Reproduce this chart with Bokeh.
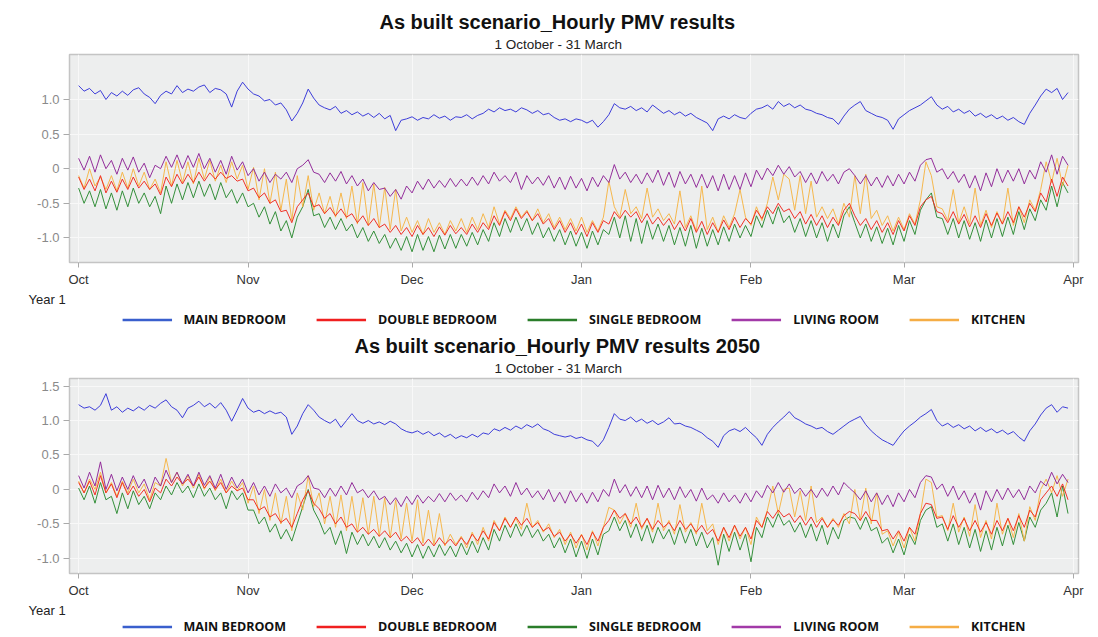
import pandas as pd
from bokeh.plotting import figure
from bokeh.layouts import column
from bokeh.models import (FixedTicker, DatetimeTickFormatter, Range1d, Title,
                          Legend, LegendItem, ColumnDataSource)
from bokeh.embed import file_html
from bokeh.resources import INLINE

# ---------------- data (one value per day, 1 Oct .. 31 Mar) -------------
dates = pd.date_range("2001-10-01", periods=182, freq="D")
month_starts = list(pd.date_range("2001-10-01", "2002-04-01", freq="MS"))

series_names = ["MAIN BEDROOM", "DOUBLE BEDROOM", "SINGLE BEDROOM", "LIVING ROOM", "KITCHEN"]
series_colors = ["#3434d8", "#f0281e", "#2a8a30", "#8e2496", "#f6b445"]
legend_colors = ["#3a5fcd", "#f02020", "#2a7d2a", "#a23aa8", "#f5ad45"]

y_ticks_now = [-1.0, -0.5, 0.0, 0.5, 1.0]
y_ticks_2050 = [-1.0, -0.5, 0.0, 0.5, 1.0, 1.5]

main_bedroom_now = [
    1.20, 1.12, 1.16, 1.08, 1.13, 1.00, 1.10, 1.05, 1.12, 1.06,
    1.14, 1.17, 1.08, 1.03, 0.94, 1.06, 1.12, 1.08, 1.20, 1.10,
    1.15, 1.12, 1.18, 1.21, 1.10, 1.16, 1.14, 1.08, 0.89, 1.12,
    1.25, 1.15, 1.08, 1.05, 0.98, 1.00, 0.92, 0.95, 0.85, 0.69,
    0.80, 0.95, 1.15, 1.02, 0.92, 0.88, 0.85, 0.90, 0.80, 0.84,
    0.78, 0.82, 0.76, 0.80, 0.74, 0.80, 0.72, 0.77, 0.55, 0.70,
    0.72, 0.75, 0.70, 0.74, 0.72, 0.78, 0.73, 0.76, 0.70, 0.75,
    0.74, 0.78, 0.72, 0.77, 0.80, 0.86, 0.82, 0.88, 0.84, 0.86,
    0.82, 0.88, 0.85, 0.80, 0.84, 0.78, 0.80, 0.74, 0.70, 0.72,
    0.68, 0.72, 0.70, 0.66, 0.70, 0.60, 0.68, 0.78, 0.94, 0.88,
    0.86, 0.90, 0.84, 0.88, 0.82, 0.92, 0.86, 0.80, 0.84, 0.78,
    0.82, 0.76, 0.80, 0.74, 0.70, 0.66, 0.55, 0.72, 0.76, 0.72,
    0.78, 0.74, 0.72, 0.80, 0.86, 0.88, 0.92, 0.86, 0.97, 0.90,
    0.94, 0.88, 0.92, 0.86, 0.84, 0.80, 0.78, 0.74, 0.72, 0.64,
    0.76, 0.86, 0.92, 0.97, 0.84, 0.80, 0.76, 0.74, 0.70, 0.57,
    0.72, 0.78, 0.84, 0.88, 0.92, 0.98, 1.04, 0.92, 0.86, 0.90,
    0.82, 0.86, 0.80, 0.84, 0.76, 0.80, 0.74, 0.78, 0.72, 0.76,
    0.70, 0.74, 0.68, 0.64, 0.80, 0.92, 1.05, 1.15, 1.10, 1.16,
    1.00, 1.10]

living_room_now = [
    0.15, -0.02, 0.18, -0.05, 0.20, 0.00, 0.12, -0.08, 0.15, -0.02,
    0.17, -0.05, 0.08, -0.13, 0.05, 0.00, 0.18, 0.02, 0.20, 0.00,
    0.19, 0.02, 0.22, 0.00, 0.15, -0.05, 0.12, -0.08, 0.18, -0.02,
    0.10, -0.10, 0.00, -0.18, -0.05, -0.20, -0.08, -0.15, -0.05, -0.20,
    0.00, 0.05, 0.13, -0.05, -0.08, -0.20, -0.06, -0.18, -0.04, -0.22,
    -0.10, -0.25, -0.15, -0.32, -0.20, -0.30, -0.28, -0.40, -0.30, -0.44,
    -0.25, -0.35, -0.18, -0.30, -0.15, -0.28, -0.17, -0.27, -0.14, -0.26,
    -0.15, -0.25, -0.12, -0.24, -0.10, -0.22, -0.05, -0.18, -0.10, -0.20,
    -0.05, -0.30, -0.10, -0.22, -0.12, -0.24, -0.10, -0.28, -0.12, -0.30,
    -0.11, -0.28, -0.14, -0.32, -0.12, -0.26, -0.10, -0.20, 0.06, -0.15,
    -0.05, -0.20, -0.08, -0.22, -0.06, -0.20, -0.02, -0.24, -0.05, -0.27,
    -0.04, -0.22, -0.08, -0.27, -0.08, -0.28, -0.10, -0.32, -0.08, -0.30,
    -0.10, -0.30, -0.06, -0.26, -0.02, -0.16, 0.01, -0.10, 0.05, -0.08,
    0.03, -0.12, -0.04, -0.20, -0.06, -0.22, -0.04, -0.18, -0.08, -0.22,
    -0.05, 0.00, -0.10, -0.22, -0.10, -0.25, -0.12, -0.27, -0.10, -0.25,
    -0.08, -0.22, -0.05, -0.18, 0.05, 0.13, 0.15, -0.05, 0.00, -0.15,
    -0.04, -0.20, -0.08, -0.28, -0.10, -0.32, -0.06, -0.26, 0.00, -0.20,
    -0.02, -0.18, 0.00, -0.22, -0.02, -0.15, 0.10, -0.05, 0.20, -0.08,
    0.18, 0.05]

kitchen_now = [
    -0.10, -0.28, 0.00, -0.25, -0.12, -0.30, -0.10, -0.32, -0.05, -0.28,
    0.00, -0.25, -0.05, -0.30, -0.15, -0.35, 0.10, -0.25, 0.12, -0.20,
    0.10, -0.22, 0.15, -0.15, 0.12, -0.18, 0.05, -0.20, 0.10, -0.15,
    0.05, -0.30, 0.02, -0.45, 0.00, -0.50, -0.05, -0.60, -0.15, -0.75,
    -0.10, -0.55, -0.10, -0.60, -0.35, -0.65, -0.40, -0.70, -0.35, -0.72,
    -0.25, -0.80, -0.20, -0.82, -0.22, -0.85, -0.27, -0.88, -0.30, -0.90,
    -0.70, -0.92, -0.75, -0.95, -0.72, -0.92, -0.78, -0.95, -0.75, -0.90,
    -0.72, -0.92, -0.70, -0.88, -0.65, -0.85, -0.55, -0.80, -0.60, -0.72,
    -0.55, -0.70, -0.60, -0.75, -0.58, -0.78, -0.65, -0.85, -0.70, -0.88,
    -0.72, -0.90, -0.70, -0.92, -0.75, -0.90, -0.70, -0.18, -0.55, -0.70,
    -0.30, -0.65, -0.55, -0.72, -0.28, -0.70, -0.58, -0.75, -0.65, -0.80,
    -0.32, -0.85, -0.68, -0.90, -0.25, -0.88, -0.70, -0.92, -0.68, -0.85,
    -0.65, -0.30, -0.70, -0.82, -0.55, -0.75, -0.50, -0.12, -0.45, -0.08,
    -0.15, -0.60, -0.10, -0.65, -0.18, -0.70, -0.55, -0.72, -0.58, -0.80,
    -0.50, -0.70, -0.10, -0.65, -0.08, -0.72, -0.60, -0.82, -0.68, -0.90,
    -0.70, -0.88, -0.65, -0.80, -0.45, 0.10, -0.10, -0.55, -0.58, -0.75,
    -0.30, -0.78, -0.55, -0.80, -0.28, -0.82, -0.60, -0.85, -0.62, -0.80,
    -0.28, -0.82, -0.55, -0.78, -0.45, -0.60, -0.30, 0.10, -0.20, 0.15,
    -0.25, 0.05]

double_bedroom_now = [
    -0.12, -0.30, -0.15, -0.32, -0.10, -0.35, -0.18, -0.34, -0.15, -0.30,
    -0.12, -0.28, -0.18, -0.30, -0.22, -0.38, -0.12, -0.26, -0.08, -0.22,
    -0.08, -0.20, -0.05, -0.18, -0.06, -0.15, -0.05, -0.14, -0.10, -0.18,
    -0.15, -0.32, -0.28, -0.42, -0.35, -0.50, -0.45, -0.62, -0.60, -0.78,
    -0.55, -0.45, -0.35, -0.55, -0.52, -0.65, -0.56, -0.68, -0.58, -0.70,
    -0.65, -0.78, -0.68, -0.82, -0.72, -0.85, -0.80, -0.92, -0.82, -0.95,
    -0.85, -0.98, -0.82, -0.95, -0.85, -0.98, -0.84, -0.96, -0.82, -0.94,
    -0.85, -0.95, -0.80, -0.92, -0.78, -0.88, -0.68, -0.82, -0.62, -0.75,
    -0.58, -0.72, -0.62, -0.75, -0.65, -0.80, -0.72, -0.88, -0.75, -0.92,
    -0.78, -0.95, -0.80, -0.98, -0.78, -0.92, -0.75, -0.80, -0.62, -0.72,
    -0.60, -0.70, -0.62, -0.78, -0.65, -0.80, -0.70, -0.82, -0.72, -0.88,
    -0.75, -0.90, -0.72, -0.92, -0.76, -0.95, -0.78, -0.92, -0.74, -0.88,
    -0.70, -0.85, -0.72, -0.80, -0.60, -0.72, -0.55, -0.65, -0.50, -0.62,
    -0.58, -0.72, -0.62, -0.80, -0.66, -0.82, -0.68, -0.85, -0.70, -0.82,
    -0.60, -0.50, -0.68, -0.82, -0.72, -0.88, -0.75, -0.92, -0.78, -0.95,
    -0.75, -0.90, -0.68, -0.82, -0.55, -0.45, -0.40, -0.62, -0.65, -0.78,
    -0.62, -0.80, -0.66, -0.84, -0.68, -0.85, -0.65, -0.82, -0.64, -0.80,
    -0.62, -0.78, -0.55, -0.70, -0.50, -0.62, -0.35, -0.48, -0.15, -0.40,
    -0.12, -0.25]

single_bedroom_now = [
    -0.28, -0.50, -0.32, -0.55, -0.30, -0.58, -0.35, -0.60, -0.32, -0.55,
    -0.28, -0.50, -0.35, -0.55, -0.40, -0.65, -0.25, -0.50, -0.22, -0.45,
    -0.20, -0.42, -0.18, -0.40, -0.22, -0.45, -0.20, -0.42, -0.30, -0.50,
    -0.35, -0.55, -0.50, -0.70, -0.55, -0.80, -0.62, -0.90, -0.75, -1.00,
    -0.70, -0.55, -0.30, -0.68, -0.65, -0.85, -0.70, -0.88, -0.72, -0.90,
    -0.80, -1.00, -0.85, -1.05, -0.90, -1.08, -0.95, -1.15, -1.00, -1.18,
    -0.98, -1.20, -0.95, -1.18, -0.98, -1.20, -0.96, -1.16, -0.95, -1.15,
    -0.95, -1.12, -0.92, -1.10, -0.88, -1.05, -0.78, -0.98, -0.72, -0.92,
    -0.70, -0.90, -0.72, -0.95, -0.78, -1.00, -0.85, -1.05, -0.88, -1.10,
    -0.90, -1.12, -0.92, -1.15, -0.90, -1.10, -0.88, -0.95, -0.70, -1.00,
    -0.68, -1.05, -0.72, -1.08, -0.75, -1.02, -0.80, -1.05, -0.82, -1.10,
    -0.85, -1.12, -0.82, -1.15, -0.86, -1.12, -0.88, -1.10, -0.84, -1.05,
    -0.80, -1.00, -0.82, -0.98, -0.68, -0.85, -0.60, -0.80, -0.55, -0.78,
    -0.68, -0.92, -0.72, -0.98, -0.75, -1.00, -0.78, -1.05, -0.80, -1.00,
    -0.68, -0.55, -0.78, -1.00, -0.80, -1.05, -0.84, -1.08, -0.86, -1.10,
    -0.82, -1.05, -0.75, -0.95, -0.60, -0.45, -0.35, -0.70, -0.72, -0.95,
    -0.72, -1.00, -0.75, -1.02, -0.78, -1.05, -0.74, -1.00, -0.72, -0.98,
    -0.70, -0.95, -0.62, -0.88, -0.58, -0.75, -0.45, -0.60, -0.25, -0.55,
    -0.20, -0.35]

main_bedroom_2050 = [
    1.23, 1.18, 1.20, 1.15, 1.22, 1.39, 1.15, 1.20, 1.12, 1.18,
    1.14, 1.20, 1.15, 1.22, 1.18, 1.25, 1.30, 1.20, 1.15, 1.04,
    1.18, 1.22, 1.28, 1.20, 1.25, 1.18, 1.26, 1.15, 0.99, 1.15,
    1.32, 1.18, 1.12, 1.15, 1.10, 1.14, 1.10, 1.12, 1.05, 0.80,
    0.92, 1.10, 1.23, 1.15, 1.05, 1.00, 0.96, 1.02, 0.90, 1.00,
    1.10, 1.00, 0.96, 1.00, 0.95, 0.98, 0.94, 0.99, 0.95, 0.88,
    0.84, 0.82, 0.85, 0.80, 0.84, 0.78, 0.82, 0.76, 0.80, 0.74,
    0.78, 0.75, 0.80, 0.76, 0.82, 0.80, 0.88, 0.85, 0.90, 0.86,
    0.92, 0.88, 0.94, 0.90, 0.95, 0.88, 0.85, 0.80, 0.78, 0.76,
    0.78, 0.74, 0.76, 0.72, 0.70, 0.62, 0.72, 0.90, 1.10, 1.02,
    1.00, 1.05, 0.98, 1.02, 0.96, 1.00, 0.94, 0.98, 1.04, 0.95,
    0.96, 0.92, 0.90, 0.86, 0.82, 0.75, 0.70, 0.61, 0.78, 0.85,
    0.88, 0.84, 0.90, 0.82, 0.75, 0.64, 0.80, 0.90, 0.98, 1.05,
    1.13, 1.04, 1.00, 0.95, 0.92, 0.88, 0.90, 0.84, 0.80, 0.86,
    0.92, 0.98, 1.02, 1.06, 0.94, 0.85, 0.78, 0.72, 0.68, 0.64,
    0.75, 0.85, 0.92, 0.98, 1.05, 1.10, 1.16, 1.00, 0.92, 0.96,
    0.90, 0.94, 0.88, 0.92, 0.85, 0.90, 0.84, 0.88, 0.82, 0.86,
    0.80, 0.84, 0.76, 0.70, 0.85, 0.95, 1.08, 1.18, 1.23, 1.12,
    1.20, 1.18]

living_room_2050 = [
    0.20, 0.02, 0.25, 0.05, 0.40, 0.00, 0.22, -0.02, 0.18, 0.00,
    0.20, 0.02, 0.15, -0.05, 0.18, 0.05, 0.28, 0.10, 0.25, 0.08,
    0.22, 0.05, 0.25, 0.06, 0.20, 0.02, 0.22, 0.00, 0.18, 0.02,
    0.15, -0.05, 0.10, -0.08, 0.05, -0.10, 0.08, -0.05, 0.02, -0.12,
    0.05, 0.10, 0.20, 0.02, 0.00, -0.12, 0.02, -0.10, 0.05, -0.08,
    0.10, -0.05, 0.00, -0.12, -0.02, -0.15, -0.10, -0.22, -0.12, -0.25,
    -0.10, -0.22, -0.08, -0.20, -0.10, -0.18, -0.06, -0.18, -0.05, -0.16,
    -0.08, -0.18, -0.04, -0.15, -0.02, -0.12, 0.08, -0.05, 0.05, -0.10,
    0.10, -0.08, 0.02, -0.12, -0.02, -0.15, 0.00, -0.18, -0.04, -0.20,
    -0.02, -0.18, -0.05, -0.20, -0.04, -0.18, 0.00, -0.10, 0.15, -0.05,
    0.07, -0.10, 0.04, -0.12, 0.05, -0.15, 0.06, -0.12, 0.02, -0.15,
    0.04, -0.12, 0.00, -0.17, 0.02, -0.15, -0.08, -0.20, -0.05, -0.18,
    -0.08, -0.20, -0.05, -0.18, -0.02, -0.12, 0.06, -0.05, 0.10, -0.04,
    0.08, -0.06, 0.02, -0.10, 0.00, -0.12, 0.02, -0.10, 0.05, -0.08,
    0.10, 0.02, -0.05, -0.15, -0.02, -0.18, -0.05, -0.22, -0.08, -0.25,
    -0.05, -0.18, 0.00, -0.12, 0.10, 0.20, 0.18, 0.00, 0.08, -0.10,
    0.05, -0.15, -0.02, -0.20, -0.05, -0.30, -0.02, -0.18, 0.00, -0.15,
    0.02, -0.12, 0.00, -0.15, 0.05, -0.05, 0.12, 0.05, 0.25, 0.08,
    0.22, 0.10]

kitchen_2050 = [
    0.12, -0.05, 0.15, 0.00, 0.25, -0.05, 0.10, -0.10, 0.12, -0.05,
    0.15, -0.05, 0.08, -0.15, 0.10, 0.05, 0.45, 0.10, 0.25, 0.05,
    0.20, 0.02, 0.22, 0.00, 0.18, -0.02, 0.15, -0.05, 0.12, -0.02,
    0.10, -0.20, 0.05, -0.35, 0.00, -0.45, -0.05, -0.50, -0.10, -0.60,
    -0.05, -0.30, 0.20, -0.25, -0.05, -0.50, -0.10, -0.55, -0.08, -0.60,
    -0.10, -0.62, -0.12, -0.65, -0.10, -0.68, -0.12, -0.70, -0.15, -0.72,
    -0.20, -0.75, -0.15, -0.78, -0.30, -0.80, -0.35, -0.82, -0.65, -0.80,
    -0.68, -0.85, -0.62, -0.80, -0.55, -0.75, -0.45, -0.60, -0.40, -0.55,
    -0.42, -0.58, -0.20, -0.55, -0.45, -0.62, -0.50, -0.70, -0.58, -0.80,
    -0.62, -0.85, -0.65, -0.88, -0.60, -0.82, -0.55, -0.26, -0.30, -0.50,
    -0.35, -0.55, -0.20, -0.58, -0.42, -0.62, -0.20, -0.60, -0.45, -0.65,
    -0.22, -0.62, -0.48, -0.65, -0.20, -0.60, -0.50, -0.80, -0.55, -0.75,
    -0.52, -0.72, -0.55, -0.80, -0.40, -0.55, -0.30, 0.05, -0.35, 0.00,
    0.02, -0.40, -0.02, -0.45, 0.05, -0.48, -0.40, -0.55, -0.42, -0.55,
    -0.35, -0.50, 0.00, -0.45, 0.02, -0.50, -0.05, -0.65, -0.60, -0.82,
    -0.62, -0.85, -0.55, -0.75, -0.35, 0.15, 0.10, -0.40, -0.38, -0.60,
    -0.20, -0.62, -0.40, -0.68, -0.22, -0.70, -0.45, -0.72, -0.20, -0.65,
    -0.42, -0.70, -0.35, -0.75, -0.25, -0.45, 0.00, 0.15, -0.05, 0.20,
    -0.10, 0.15]

double_bedroom_2050 = [
    0.10, -0.05, 0.12, -0.08, 0.20, -0.05, 0.08, -0.12, 0.10, -0.08,
    0.05, -0.10, 0.00, -0.18, 0.02, -0.05, 0.15, 0.05, 0.18, 0.08,
    0.15, 0.05, 0.18, 0.02, 0.12, 0.00, 0.10, -0.05, 0.05, -0.02,
    0.02, -0.15, -0.15, -0.30, -0.25, -0.40, -0.35, -0.48, -0.42, -0.55,
    -0.35, -0.15, -0.02, -0.20, -0.28, -0.42, -0.35, -0.50, -0.40, -0.55,
    -0.50, -0.62, -0.55, -0.65, -0.58, -0.68, -0.60, -0.70, -0.62, -0.75,
    -0.68, -0.78, -0.70, -0.82, -0.72, -0.82, -0.70, -0.80, -0.72, -0.82,
    -0.70, -0.80, -0.65, -0.75, -0.60, -0.72, -0.48, -0.60, -0.42, -0.55,
    -0.40, -0.52, -0.42, -0.55, -0.48, -0.60, -0.55, -0.68, -0.62, -0.75,
    -0.65, -0.78, -0.66, -0.80, -0.62, -0.75, -0.55, -0.45, -0.30, -0.42,
    -0.35, -0.50, -0.40, -0.55, -0.42, -0.58, -0.45, -0.55, -0.48, -0.60,
    -0.45, -0.58, -0.50, -0.62, -0.52, -0.65, -0.58, -0.75, -0.55, -0.70,
    -0.52, -0.68, -0.55, -0.72, -0.45, -0.55, -0.32, -0.42, -0.30, -0.40,
    -0.35, -0.48, -0.38, -0.52, -0.40, -0.55, -0.42, -0.55, -0.44, -0.52,
    -0.38, -0.32, -0.35, -0.45, -0.32, -0.45, -0.45, -0.60, -0.58, -0.72,
    -0.60, -0.75, -0.55, -0.65, -0.35, -0.20, -0.22, -0.42, -0.40, -0.58,
    -0.38, -0.55, -0.42, -0.60, -0.45, -0.62, -0.48, -0.65, -0.45, -0.60,
    -0.42, -0.60, -0.38, -0.55, -0.30, -0.40, -0.15, -0.05, 0.05, -0.10,
    0.08, -0.15]

single_bedroom_2050 = [
    0.02, -0.15, 0.05, -0.20, 0.10, -0.15, -0.10, -0.35, -0.05, -0.28,
    -0.02, -0.22, -0.10, -0.28, -0.05, -0.15, 0.05, -0.08, 0.10, -0.05,
    0.05, -0.12, 0.08, -0.10, 0.02, -0.15, -0.05, -0.28, -0.02, -0.15,
    -0.05, -0.30, -0.30, -0.50, -0.40, -0.62, -0.50, -0.72, -0.58, -0.75,
    -0.50, -0.25, 0.00, -0.30, -0.45, -0.65, -0.55, -0.80, -0.60, -0.93,
    -0.62, -0.80, -0.65, -0.82, -0.68, -0.85, -0.70, -0.88, -0.75, -0.92,
    -0.78, -0.98, -0.80, -1.00, -0.82, -0.98, -0.80, -0.96, -0.82, -0.98,
    -0.78, -0.95, -0.75, -0.92, -0.70, -0.88, -0.58, -0.75, -0.52, -0.70,
    -0.50, -0.68, -0.52, -0.70, -0.58, -0.75, -0.65, -0.85, -0.70, -0.92,
    -0.72, -0.98, -0.75, -1.00, -0.72, -0.95, -0.65, -0.60, -0.40, -0.60,
    -0.45, -0.70, -0.50, -0.75, -0.52, -0.78, -0.55, -0.72, -0.58, -0.80,
    -0.55, -0.78, -0.58, -0.82, -0.62, -0.85, -0.70, -1.10, -0.65, -0.90,
    -0.62, -0.88, -0.65, -1.05, -0.55, -0.70, -0.40, -0.55, -0.35, -0.52,
    -0.45, -0.62, -0.48, -0.70, -0.50, -0.75, -0.52, -0.80, -0.55, -0.72,
    -0.45, -0.40, -0.42, -0.58, -0.40, -0.60, -0.55, -0.78, -0.70, -0.92,
    -0.72, -0.95, -0.65, -0.80, -0.45, -0.30, -0.25, -0.55, -0.50, -0.75,
    -0.50, -0.80, -0.55, -0.85, -0.58, -0.90, -0.60, -0.88, -0.55, -0.82,
    -0.52, -0.80, -0.48, -0.75, -0.40, -0.55, -0.30, -0.20, -0.05, -0.40,
    0.05, -0.35]

values_now = [main_bedroom_now, double_bedroom_now, single_bedroom_now,
              living_room_now, kitchen_now]
values_2050 = [main_bedroom_2050, double_bedroom_2050, single_bedroom_2050,
               living_room_2050, kitchen_2050]

# ---------------- layout constants ----------------
X_START = pd.Timestamp("2001-10-01") - pd.Timedelta(hours=40)
X_END = pd.Timestamp("2002-04-01") + pd.Timedelta(hours=22)
FONT = "Liberation Sans"
MONTH_TICKS = [t.value // 10**6 for t in month_starts]
W = 1090
LEFT = 69
RIGHT = 12


def tick_label(v):
    return "0" if v == 0 else f"{v:.1f}"


def make_panel(title, title_offset, y_lo, y_hi, y_ticks, values, height, top, bottom):
    p = figure(width=W, height=height, x_axis_type="datetime",
               x_range=Range1d(X_START, X_END), y_range=Range1d(y_lo, y_hi),
               output_backend="svg", toolbar_location=None, title=None,
               min_border_left=LEFT, min_border_right=RIGHT,
               min_border_top=top, min_border_bottom=bottom)
    p.add_layout(Title(text="1 October - 31 March", align="left", text_font=FONT,
                       text_font_size="13.5px", text_font_style="normal",
                       text_color="#222222", standoff=5, offset=425), "above")
    p.add_layout(Title(text=title, align="left", text_font=FONT,
                       text_font_size="20px", text_font_style="bold",
                       text_color="#111111", standoff=0, offset=title_offset), "above")

    p.background_fill_color = "#edeeee"
    p.border_fill_color = "white"
    p.outline_line_color = "#c4c4c4"
    p.outline_line_width = 1.5

    p.xaxis.ticker = FixedTicker(ticks=MONTH_TICKS)
    p.xaxis.formatter = DatetimeTickFormatter(
        milliseconds="%b", seconds="%b", minsec="%b", minutes="%b", hourmin="%b",
        hours="%b", days="%b", months="%b", years="%b")
    p.xaxis.axis_line_color = None
    p.xaxis.major_tick_in = 0
    p.xaxis.major_tick_out = 5
    p.xaxis.major_tick_line_color = "#aaaaaa"
    p.xaxis.minor_tick_line_color = None
    p.xaxis.major_label_text_font = FONT
    p.xaxis.major_label_text_font_size = "13px"
    p.xaxis.major_label_text_color = "#333333"
    p.xaxis.major_label_standoff = 4

    p.yaxis.ticker = FixedTicker(ticks=y_ticks)
    p.yaxis.major_label_overrides = {v: tick_label(v) for v in y_ticks}
    p.yaxis.axis_line_color = None
    p.yaxis.major_tick_in = 0
    p.yaxis.major_tick_out = 6
    p.yaxis.major_tick_line_color = "#aaaaaa"
    p.yaxis.minor_tick_line_color = None
    p.yaxis.major_label_text_font = FONT
    p.yaxis.major_label_text_font_size = "13px"
    p.yaxis.major_label_text_color = "#8a8a8a"
    p.yaxis.major_label_standoff = 4

    p.xgrid.ticker = FixedTicker(ticks=MONTH_TICKS)
    p.xgrid.grid_line_color = "#f8f8f8"
    p.ygrid.grid_line_color = "#f8f8f8"

    src = ColumnDataSource(dict(x=dates, **{n: v for n, v in zip(series_names, values)}))
    draw_order = [2, 4, 1, 3, 0]
    for i in draw_order:
        p.line("x", series_names[i], source=src, color=series_colors[i],
               line_width=1.0, line_alpha=0.95)

    p.add_layout(Title(text="Year 1", align="left", text_font=FONT,
                       text_font_size="13px", text_font_style="normal",
                       text_color="#222222", standoff=0, offset=-41), "below")
    return p


def make_legend_row(height, values):
    lg = figure(width=W, height=height, output_backend="svg", toolbar_location=None,
                min_border_left=LEFT, min_border_right=RIGHT, min_border_top=0,
                min_border_bottom=0, x_range=Range1d(0, 1), y_range=Range1d(0, 1))
    lg.axis.visible = False
    lg.grid.visible = False
    lg.outline_line_color = None
    lg.background_fill_color = "white"
    src = ColumnDataSource(dict(x=dates, **{n: v for n, v in zip(series_names, values)}))
    items = []
    for name, col in zip(series_names, legend_colors):
        r = lg.line("x", name, source=src, color=col, line_width=2.5, visible=False)
        items.append(LegendItem(label=name, renderers=[r]))
    legend = Legend(items=items, orientation="horizontal", location="center",
                    label_text_font="Open Sans", label_text_font_style="bold",
                    label_text_font_size="12.5px", label_text_color="#111111",
                    glyph_width=50, glyph_height=12, label_height=14,
                    label_standoff=12, spacing=30, padding=0, margin=0,
                    border_line_alpha=0, background_fill_alpha=0,
                    inactive_fill_alpha=0)
    lg.add_layout(legend, "center")
    return lg


p1 = make_panel("As built scenario_Hourly PMV results", 310, -1.355, 1.65, y_ticks_now,
                values_now, height=306, top=54, bottom=40)
l1 = make_legend_row(26, values_now)
p2 = make_panel("As built scenario_Hourly PMV results 2050", 285, -1.22, 1.61,
                y_ticks_2050, values_2050, height=285, top=46, bottom=40)
l2 = make_legend_row(18, values_2050)

layout = column(p1, l1, p2, l2, spacing=0)
open("out.html", "w").write(file_html(layout, INLINE))
